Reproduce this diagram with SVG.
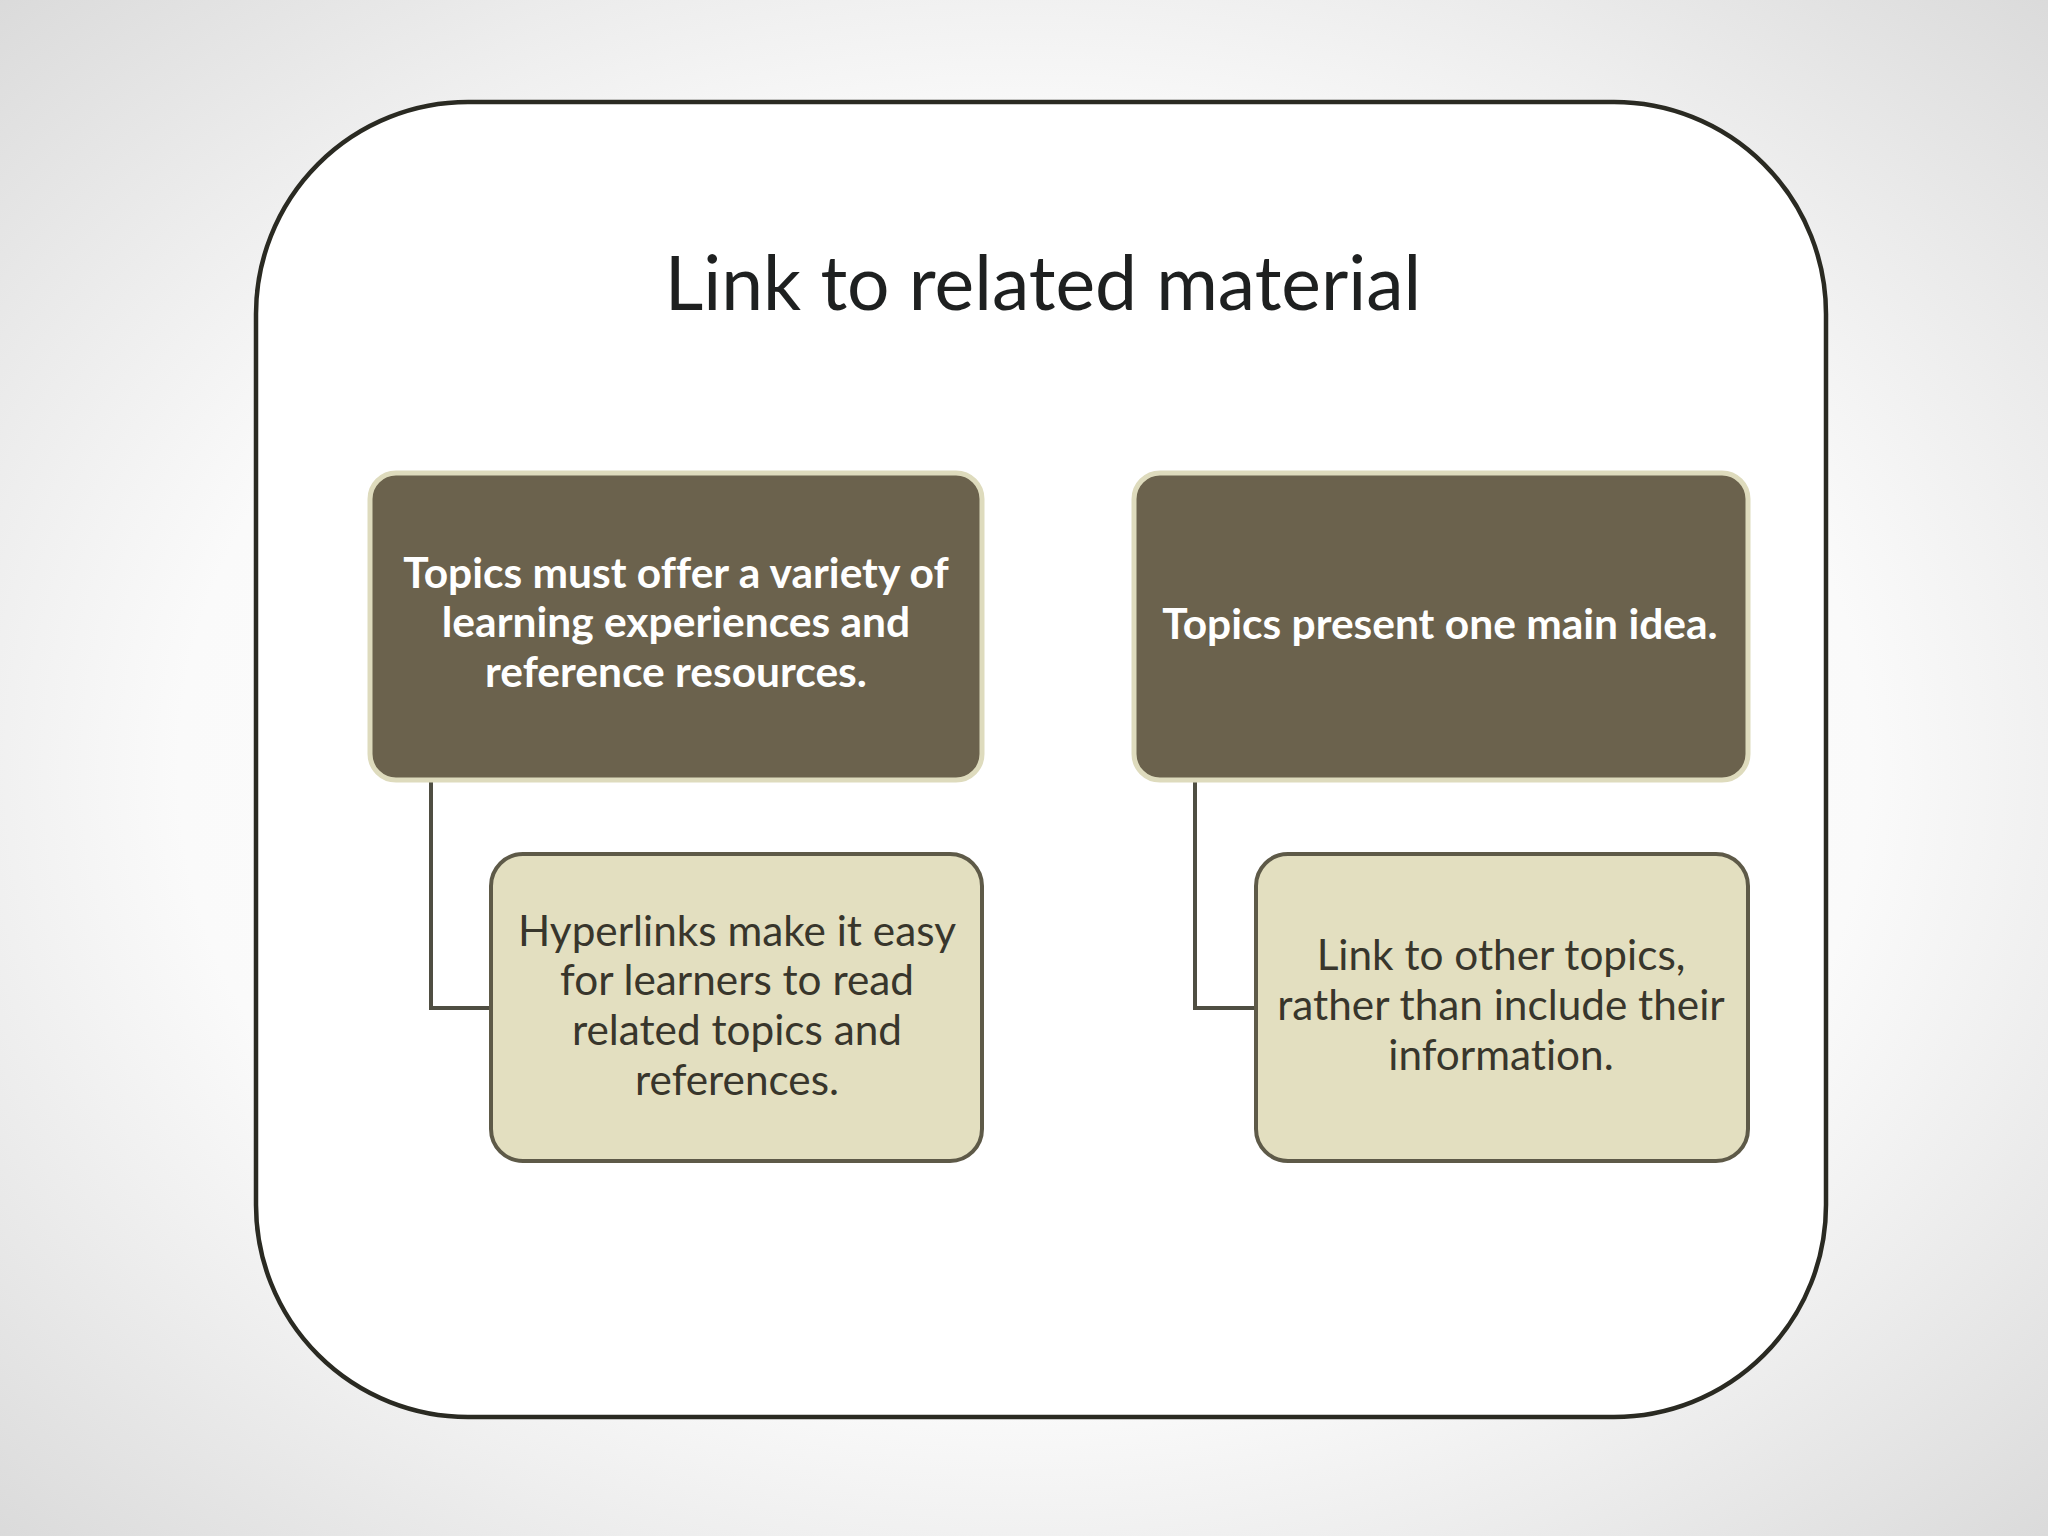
<svg xmlns="http://www.w3.org/2000/svg" width="2048" height="1536" viewBox="0 0 2048 1536">
<defs>
<radialGradient id="bg" cx="50%" cy="50%" r="75%">
<stop offset="0" stop-color="#ffffff"/>
<stop offset="0.55" stop-color="#fafafa"/>
<stop offset="1" stop-color="#d6d6d6"/>
</radialGradient>
<style>
.frame{fill:#ffffff;stroke:#2a2a22;stroke-width:4.5}
.dark{fill:#6b624d;stroke:#dedbbd;stroke-width:5}
.light{fill:#e3dfc0;stroke:#5e5a48;stroke-width:4}
.conn{fill:none;stroke:#4f4e42;stroke-width:4}
text{font-variant-ligatures:none;font-feature-settings:"liga" 0,"dlig" 0}
.title{font-family:Lato,"Liberation Sans",sans-serif;font-size:75px;fill:#1e2020;text-anchor:middle}
.tb{font-family:Lato,"Liberation Sans",sans-serif;font-size:42.5px;font-weight:bold;fill:#ffffff;text-anchor:middle}
.tl{font-family:Lato,"Liberation Sans",sans-serif;font-size:42.3px;fill:#38362c;text-anchor:middle}
</style>
</defs>
<rect x="0" y="0" width="2048" height="1536" fill="url(#bg)"/>
<rect class="frame" x="256" y="102" width="1570" height="1315" rx="212" ry="212"/>
<text class="title" x="1043" y="310">Link to related material</text>
<g id="connectors">
<path class="conn" d="M431 780 V1008 H491"/>
<path class="conn" d="M1195 780 V1008 H1256"/>
</g>
<g id="node-topics-variety">
<rect class="dark" x="370" y="473" width="612" height="307" rx="26" ry="26"/>
<text class="tb" x="676" y="588">Topics must offer a variety of</text>
<text class="tb" x="676" y="637">learning experiences and</text>
<text class="tb" x="676" y="687">reference resources.</text>
</g>
<g id="node-topics-main-idea">
<rect class="dark" x="1134" y="473" width="614" height="307" rx="26" ry="26"/>
<text class="tb" x="1440" y="639">Topics present one main idea.</text>
</g>
<g id="node-hyperlinks">
<rect class="light" x="491" y="854" width="491" height="307" rx="32" ry="32"/>
<text class="tl" x="737" y="946">Hyperlinks make it easy</text>
<text class="tl" x="737" y="995">for learners to read</text>
<text class="tl" x="737" y="1045">related topics and</text>
<text class="tl" x="737" y="1095">references.</text>
</g>
<g id="node-link-other">
<rect class="light" x="1256" y="854" width="492" height="307" rx="32" ry="32"/>
<text class="tl" x="1501" y="970">Link to other topics,</text>
<text class="tl" x="1501" y="1020">rather than include their</text>
<text class="tl" x="1501" y="1070">information.</text>
</g>
</svg>
